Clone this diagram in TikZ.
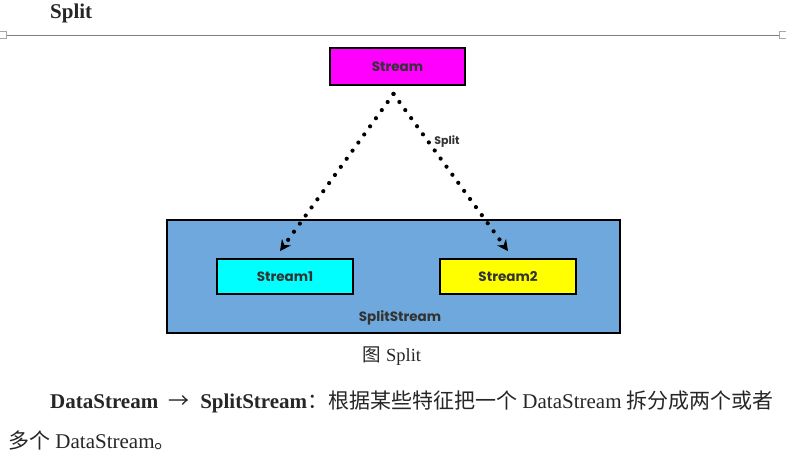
\documentclass[tikz,border=0pt]{standalone}
\usepackage{fontspec}
\setmainfont{Liberation Serif}
\newfontfamily\cjk{Noto Sans CJK SC}
\newfontfamily\lblfont{Poppins}
\usetikzlibrary{arrows.meta}
\definecolor{splitblue}{RGB}{111,168,220}
\definecolor{magentabox}{RGB}{255,0,255}
\definecolor{cyanbox}{RGB}{0,255,255}
\definecolor{yellowbox}{RGB}{255,255,0}
\tikzset{
  boxstyle/.style={draw=black, line width=1.8pt, minimum width=#1, inner sep=0pt},
  lbl/.style={font=\lblfont\fontsize{13.5}{16}\selectfont\bfseries, text=black!80},
  dotline/.style={line width=4.2pt, line cap=round, dash pattern=on 0pt off 10pt, -{Stealth[length=11pt,width=11pt]}},
  bodytext/.style={font=\fontsize{21}{24}\selectfont, anchor=west, inner sep=0pt, text=black!85},
}
\begin{document}
\begin{tikzpicture}[x=1pt,y=-1pt]
\useasboundingbox (0,0) rectangle (786,466);
% header
\node[font=\fontsize{21}{24}\selectfont\bfseries, text=black!85, anchor=west, inner sep=0pt] (title) at (50,13) {Split};
\coordinate (hl) at (7,35);
\coordinate (hr) at (779,35);
\draw[gray, line width=0.8pt] (hl) -- (hr);
\node[draw=gray!70, minimum size=7pt, inner sep=0pt] (sql) at (3,35) {};
\node[draw=gray!70, minimum size=7pt, inner sep=0pt] (sqr) at (783,35) {};
% container
\node[boxstyle=453pt, minimum height=113pt, fill=splitblue] (split) at (393.5,276.5) {};
\node[lbl] (splitlbl) at (400,318) {SplitStream};
% boxes
\node[boxstyle=135pt, minimum height=37pt, fill=magentabox, lbl] (s) at (397.5,66.5) {Stream};
\node[boxstyle=136pt, minimum height=35pt, fill=cyanbox, lbl] (s1) at (285,276.5) {Stream1};
\node[boxstyle=136pt, minimum height=35pt, fill=yellowbox, lbl] (s2) at (508,276.5) {Stream2};
% connectors
\draw[dotline] ([xshift=-4pt,yshift=-8pt]s.south) -- ([xshift=-5pt,yshift=7pt]s1.north);
\draw[dotline] ([xshift=-4pt,yshift=-8pt]s.south) -- ([yshift=7pt]s2.north);
\node[lbl, font=\lblfont\fontsize{11}{13}\selectfont\bfseries] (splitarrow) at (447,142) {Split};
% caption
\node[font=\fontsize{18.5}{22}\selectfont, text=black!85] (cap) at (392,356) {{\cjk 图} Split};
% body
\node[bodytext] (line1) at (50,402) {\textbf{DataStream} \ {\cjk →} \ \textbf{SplitStream}{\cjk ：根据某些特征把一个} DataStream {\cjk 拆分成两个或者}};
\node[bodytext] (line2) at (8,441) {{\cjk 多个} DataStream{\cjk 。}};
\end{tikzpicture}
\end{document}
